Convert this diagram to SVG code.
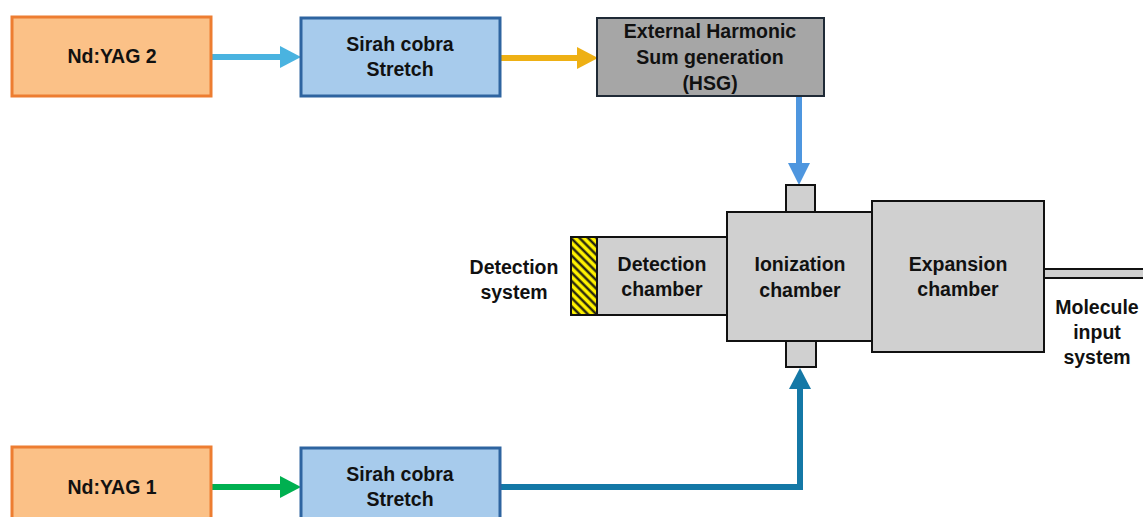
<svg xmlns="http://www.w3.org/2000/svg" width="1143" height="517" viewBox="0 0 1143 517">
<defs>
<style>
text{font-family:"Liberation Sans",Arial,sans-serif;font-weight:bold;font-size:19.5px;fill:#111;text-anchor:middle}
.yag{fill:#FBC187;stroke:#ED7D31;stroke-width:3}
.sirah{fill:#A7CBEC;stroke:#2E64A0;stroke-width:3}
.hsg{fill:#A6A6A6;stroke:#1F2A36;stroke-width:2}
.ch{fill:#D0D0D0;stroke:#111;stroke-width:2}
.ln{fill:none;stroke-width:6}
</style>
<pattern id="hatch" width="6" height="6" patternUnits="userSpaceOnUse" patternTransform="rotate(-45)">
<rect width="6" height="6" fill="#FFF200"/>
<line x1="1.5" y1="0" x2="1.5" y2="6" stroke="#111" stroke-width="2.2"/>
</pattern>
</defs>

<g id="connectors">
<line class="ln" x1="211" y1="57" x2="282" y2="57" stroke="#4AB3E0"/>
<polygon points="280,46 301,57 280,68" fill="#4AB3E0"/>
<line class="ln" x1="500" y1="58" x2="580" y2="58" stroke="#EEB014"/>
<polygon points="577,47 598,58 577,69" fill="#EEB014"/>
<line class="ln" x1="799" y1="96" x2="799" y2="166" stroke="#4E96DF"/>
<polygon points="788,163 799,185 810,163" fill="#4E96DF"/>
<line class="ln" x1="211" y1="487" x2="282" y2="487" stroke="#00B050"/>
<polygon points="280,476 301,487 280,498" fill="#00B050"/>
<polyline class="ln" points="500,487 800,487 800,386" stroke="#1478A6"/>
<polygon points="789,389 800,368 811,389" fill="#1478A6"/>
</g>

<g id="ndyag2">
<rect class="yag" x="12" y="17" width="199" height="79"/>
<text x="112" y="63">Nd:YAG 2</text>
</g>
<g id="sirah2">
<rect class="sirah" x="301" y="18" width="199" height="78"/>
<text x="400" y="51">Sirah cobra</text>
<text x="400" y="76">Stretch</text>
</g>
<g id="hsg">
<rect class="hsg" x="597" y="18" width="227" height="78"/>
<text x="710" y="38">External Harmonic</text>
<text x="710" y="64">Sum generation</text>
<text x="710" y="90">(HSG)</text>
</g>

<g id="detection-system">
<rect x="571" y="237" width="26" height="78" fill="url(#hatch)" stroke="#111" stroke-width="2"/>
<text x="514" y="274">Detection</text>
<text x="514" y="299">system</text>
</g>
<g id="detection-chamber">
<rect class="ch" x="597" y="237" width="130" height="78"/>
<text x="662" y="271">Detection</text>
<text x="662" y="296">chamber</text>
</g>
<g id="ionization-chamber">
<rect class="ch" x="786" y="185" width="29" height="27"/>
<rect class="ch" x="786" y="341" width="30" height="26"/>
<rect class="ch" x="727" y="212" width="145" height="129"/>
<text x="800" y="271">Ionization</text>
<text x="800" y="297">chamber</text>
</g>
<g id="expansion-chamber">
<rect class="ch" x="872" y="201" width="172" height="151"/>
<text x="958" y="271">Expansion</text>
<text x="958" y="296">chamber</text>
</g>
<g id="molecule-input">
<rect class="ch" x="1044" y="269" width="101" height="9" stroke-width="1.5"/>
<text x="1097" y="314">Molecule</text>
<text x="1097" y="339">input</text>
<text x="1097" y="364">system</text>
</g>

<g id="ndyag1">
<rect class="yag" x="12" y="447" width="199" height="79"/>
<text x="112" y="494">Nd:YAG 1</text>
</g>
<g id="sirah1">
<rect class="sirah" x="301" y="448" width="199" height="78"/>
<text x="400" y="481">Sirah cobra</text>
<text x="400" y="506">Stretch</text>
</g>
</svg>
